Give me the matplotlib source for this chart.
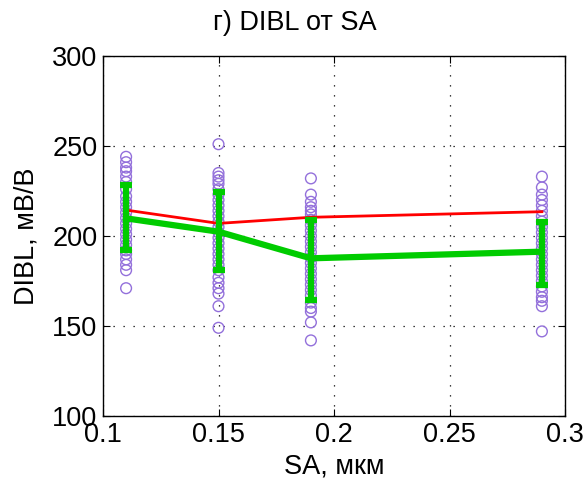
import matplotlib
matplotlib.use("Agg")
import matplotlib.pyplot as plt
import numpy as np

plt.rcParams['font.family'] = ['Liberation Sans', 'DejaVu Sans']

sa = [0.11, 0.15, 0.19, 0.29]
scatter_vals = {
    0.11: [244, 241, 238, 236, 233, 230, 226, 222, 219, 216, 213, 210, 207, 204,
           201, 198, 195, 192, 190, 187, 184, 181, 171],
    0.15: [251, 235, 233, 231, 229, 226, 223, 220, 217, 214, 211, 208, 205, 202,
           199, 196, 193, 190, 187, 184, 181, 177, 174, 171, 168, 161, 149],
    0.19: [232, 223, 219, 216, 214, 212, 209, 206, 203, 200, 197, 194, 191, 188,
           185, 182, 179, 176, 173, 170, 167, 163, 160, 158, 152, 142],
    0.29: [233, 227, 223, 220, 217, 214, 211, 208, 205, 202, 199, 196, 193, 190,
           187, 184, 181, 178, 175, 172, 169, 166, 164, 161, 147],
}
mean_vals = [214.4, 207.0, 210.4, 213.5]
median_vals = [209.8, 202.4, 187.6, 191.3]
err_top = [228.3, 224.6, 209.0, 208.0]
err_bot = [192.0, 181.0, 164.4, 172.8]

xticks = [0.1, 0.15, 0.2, 0.25, 0.3]
xtick_labels = ['0.1', '0.15', '0.2', '0.25', '0.3']
yticks = [100, 150, 200, 250, 300]

fig = plt.figure(figsize=(5.86, 4.83), dpi=100)
ax = fig.add_axes([103/586, 1-416/483, (565-103)/586, (416-56)/483])

for x, vals in scatter_vals.items():
    ax.scatter([x]*len(vals), vals, s=60, facecolors='none',
               edgecolors='#9370DB', linewidths=1.0, zorder=2)

ax.plot(sa, mean_vals, color='#FF0000', lw=2, zorder=3)
med = np.array(median_vals)
yerr = [med - np.array(err_bot), np.array(err_top) - med]
ax.errorbar(sa, median_vals, yerr=yerr, color='#00CC00', lw=4.5,
            elinewidth=4.5, capsize=4, capthick=4.5, zorder=4)

ax.set_xlim(0.1, 0.3)
ax.set_ylim(100, 300)
ax.set_xticks(xticks)
ax.set_xticklabels(xtick_labels)
ax.set_yticks(yticks)
ax.grid(True, color='black', linestyle=(0, (1, 7)), lw=0.9)
ax.tick_params(direction='in', top=True, right=True, length=5,
               labelsize=19.5, pad=4)
for s in ax.spines.values():
    s.set_linewidth(1.0)

fig.text(295/586, 1-23/483, 'г) DIBL от SA', fontsize=19.5,
         ha='center', va='center')
ax.set_xlabel('SA, мкм', fontsize=19.5, labelpad=4)
ax.set_ylabel('DIBL, мВ/В', fontsize=19.5, labelpad=9)

fig.savefig('out.png', dpi=100)
